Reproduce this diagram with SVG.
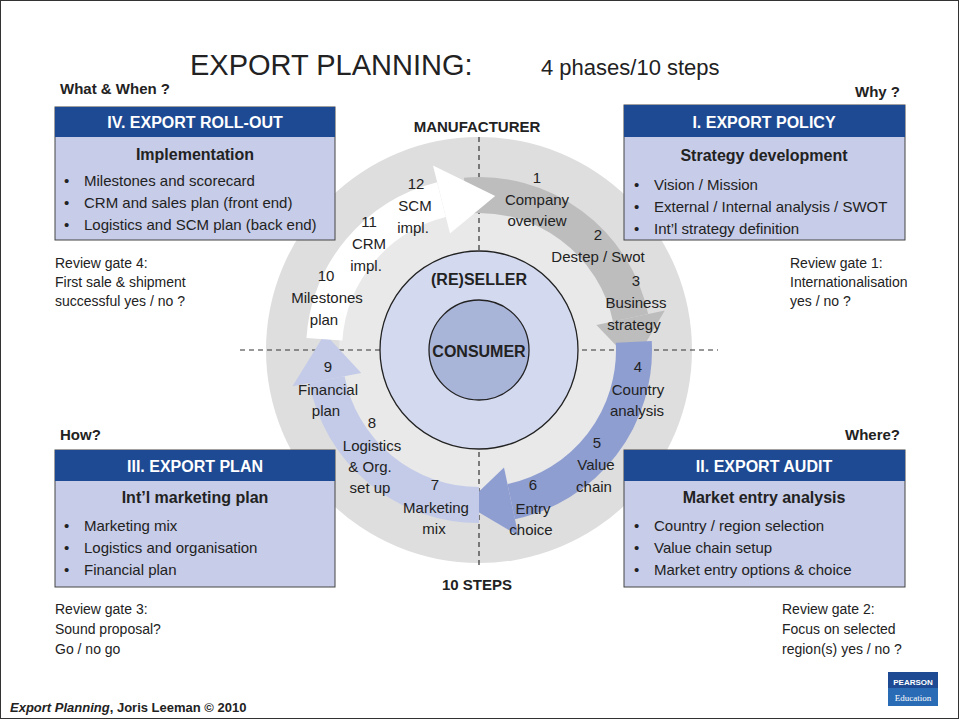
<svg xmlns="http://www.w3.org/2000/svg" width="960" height="720" viewBox="0 0 960 720">
<style>
text{font-family:"Liberation Sans",Arial,sans-serif;fill:#222}
.hd{fill:#fff;font-weight:bold;font-size:16px}
.sub{font-weight:bold;font-size:16px}
.it{font-size:15px}
.sm{font-size:14px}
.lb{font-size:15px;text-anchor:middle}
.b{font-weight:bold}
.hdr{fill:#1d4a93}
.body{fill:#c7cce8;stroke:#444;stroke-width:1}
.dash{stroke:#333;stroke-width:1.2;stroke-dasharray:5,4;fill:none}
</style>
<rect width="960" height="720" fill="#fff"/>
<rect x="0.5" y="0.5" width="958" height="718" fill="none" stroke="#333"/>
<text x="190" y="75" style="font-size:29px">EXPORT PLANNING:</text>
<text x="541" y="75" style="font-size:22px">4 phases/10 steps</text>
<text x="60" y="94" class="b" style="font-size:15px">What &amp; When ?</text>
<text x="900" y="97" class="b" style="font-size:15px;text-anchor:end">Why ?</text>
<text x="60" y="440" class="b" style="font-size:15px">How?</text>
<text x="900" y="440" class="b" style="font-size:15px;text-anchor:end">Where?</text>

<g id="circle">
<circle cx="479" cy="350" r="213" fill="#dedede"/>
<circle cx="479" cy="350" r="140" fill="#e9e9e9"/>
</g>
<g id="axes">
<line class="dash" x1="240" y1="350" x2="718" y2="350"/>
<line class="dash" x1="479" y1="137" x2="479" y2="565"/>
</g>
<g id="connectors">
<path d="M465.5,195.6 A155,155 0 0 1 630.6,317.8" fill="none" stroke="#bdbdbd" stroke-width="36"/>
<polygon points="596.4,325.1 664.8,310.5 633.4,363.5" fill="#bdbdbd"/>
<path d="M633.8,341.9 A155,155 0 0 1 511.2,501.6" fill="none" stroke="#8f9ed1" stroke-width="36"/>
<polygon points="504,467.4 518.5,535.8 465.5,504.4" fill="#8f9ed1"/>
<path d="M479,505 A155,155 0 0 1 326.9,379.6" fill="none" stroke="#c3cbe8" stroke-width="36"/>
<polygon points="361.2,372.9 292.5,386.3 324.9,333.8" fill="#c3cbe8"/>
<path d="M324.4,339.2 A155,155 0 0 1 441.5,199.6" fill="none" stroke="#fff" stroke-width="36"/>
<polygon points="450,233.6 433,165.6 495.2,195.9" fill="#fff"/>
</g>
<g id="seller">
<circle cx="479" cy="350" r="99" fill="#d3d9ef" stroke="#222" stroke-width="1.3"/>
<text x="479" y="285" class="b" style="font-size:16px;text-anchor:middle">(RE)SELLER</text>
</g>
<g id="consumer">
<circle cx="479" cy="350" r="50" fill="#a9b4d9" stroke="#222" stroke-width="1.3"/>
<text x="479" y="357" class="b" style="font-size:16px;text-anchor:middle">CONSUMER</text>
</g>
<text x="477" y="132" class="b" style="font-size:15px;text-anchor:middle">MANUFACTURER</text>
<text x="477" y="590" class="b" style="font-size:15px;text-anchor:middle">10 STEPS</text>

<g id="steps">
<text class="lb" x="537" y="183">1</text><text class="lb" x="537" y="205">Company</text><text class="lb" x="537" y="226">overview</text>
<text class="lb" x="598" y="240">2</text><text class="lb" x="598" y="262">Destep / Swot</text>
<text class="lb" x="636" y="286">3</text><text class="lb" x="636" y="308">Business</text><text class="lb" x="634" y="330">strategy</text>
<text class="lb" x="638" y="372">4</text><text class="lb" x="638" y="395">Country</text><text class="lb" x="637" y="416">analysis</text>
<text class="lb" x="597" y="448">5</text><text class="lb" x="596" y="470">Value</text><text class="lb" x="594" y="492">chain</text>
<text class="lb" x="533" y="490">6</text><text class="lb" x="533" y="514">Entry</text><text class="lb" x="531" y="535">choice</text>
<text class="lb" x="435" y="490">7</text><text class="lb" x="436" y="513">Marketing</text><text class="lb" x="434" y="534">mix</text>
<text class="lb" x="372" y="428">8</text><text class="lb" x="372" y="451">Logistics</text><text class="lb" x="370" y="472">&amp; Org.</text><text class="lb" x="370" y="493">set up</text>
<text class="lb" x="328" y="372">9</text><text class="lb" x="328" y="395">Financial</text><text class="lb" x="326" y="416">plan</text>
<text class="lb" x="326" y="281">10</text><text class="lb" x="327" y="303">Milestones</text><text class="lb" x="324" y="325">plan</text>
<text class="lb" x="369" y="227">11</text><text class="lb" x="369" y="249">CRM</text><text class="lb" x="366" y="271">impl.</text>
<text class="lb" x="416" y="189">12</text><text class="lb" x="415" y="211">SCM</text><text class="lb" x="413" y="233">impl.</text>
</g>

<g id="rollout">
<rect class="body" x="55" y="107" width="280" height="133"/>
<rect class="hdr" x="55" y="107" width="280" height="30"/>
<text x="195" y="128" class="hd" text-anchor="middle">IV. EXPORT ROLL-OUT</text>
<text x="195" y="160" class="sub" text-anchor="middle">Implementation</text>
<text x="64" y="186" class="it">•</text><text x="84" y="186" class="it">Milestones and scorecard</text>
<text x="64" y="208" class="it">•</text><text x="84" y="208" class="it">CRM and sales plan (front end)</text>
<text x="64" y="230" class="it">•</text><text x="84" y="230" class="it">Logistics and SCM plan (back end)</text>
<text x="55" y="268" class="sm">Review gate 4:</text>
<text x="55" y="287" class="sm">First sale &amp; shipment</text>
<text x="55" y="306" class="sm">successful yes / no ?</text>
</g>
<g id="policy">
<rect class="body" x="624" y="105" width="281" height="135"/>
<rect class="hdr" x="624" y="105" width="281" height="32"/>
<text x="764" y="128" class="hd" text-anchor="middle">I.  EXPORT POLICY</text>
<text x="764" y="161" class="sub" text-anchor="middle">Strategy development</text>
<text x="634" y="190" class="it">•</text><text x="654" y="190" class="it">Vision / Mission</text>
<text x="634" y="212" class="it">•</text><text x="654" y="212" class="it">External / Internal analysis / SWOT</text>
<text x="634" y="234" class="it">•</text><text x="654" y="234" class="it">Int’l strategy definition</text>
<text x="790" y="268" class="sm">Review gate 1:</text>
<text x="790" y="287" class="sm">Internationalisation</text>
<text x="790" y="306" class="sm">yes / no ?</text>
</g>
<g id="plan">
<rect class="body" x="55" y="450" width="280" height="137"/>
<rect class="hdr" x="55" y="450" width="280" height="31"/>
<text x="195" y="472" class="hd" text-anchor="middle">III.  EXPORT PLAN</text>
<text x="195" y="503" class="sub" text-anchor="middle">Int’l marketing plan</text>
<text x="64" y="531" class="it">•</text><text x="84" y="531" class="it">Marketing mix</text>
<text x="64" y="553" class="it">•</text><text x="84" y="553" class="it">Logistics and organisation</text>
<text x="64" y="575" class="it">•</text><text x="84" y="575" class="it">Financial plan</text>
<text x="55" y="614" class="sm">Review gate 3:</text>
<text x="55" y="634" class="sm">Sound proposal?</text>
<text x="55" y="654" class="sm">Go / no go</text>
</g>
<g id="audit">
<rect class="body" x="624" y="450" width="281" height="137"/>
<rect class="hdr" x="624" y="450" width="281" height="31"/>
<text x="764" y="472" class="hd" text-anchor="middle">II.  EXPORT AUDIT</text>
<text x="764" y="503" class="sub" text-anchor="middle">Market entry analysis</text>
<text x="634" y="531" class="it">•</text><text x="654" y="531" class="it">Country / region selection</text>
<text x="634" y="553" class="it">•</text><text x="654" y="553" class="it">Value chain setup</text>
<text x="634" y="575" class="it">•</text><text x="654" y="575" class="it">Market entry options &amp; choice</text>
<text x="782" y="614" class="sm">Review gate 2:</text>
<text x="782" y="634" class="sm">Focus on selected</text>
<text x="782" y="654" class="sm">region(s) yes / no ?</text>
</g>
<text x="10" y="712" style="font-size:13px" class="b"><tspan font-style="italic">Export Planning</tspan>, Joris Leeman © 2010</text>
<g id="logo">
<rect x="888" y="672" width="50" height="34" fill="#1d4a93"/>
<rect x="888" y="688" width="50" height="18" fill="#2a6bb5"/>
<text x="913" y="685" text-anchor="middle" style="font-size:8px;fill:#fff;font-weight:bold">PEARSON</text>
<text x="913" y="701" text-anchor="middle" style="font-size:9px;fill:#fff;font-family:'Liberation Serif',serif">Education</text>
</g>
</svg>
